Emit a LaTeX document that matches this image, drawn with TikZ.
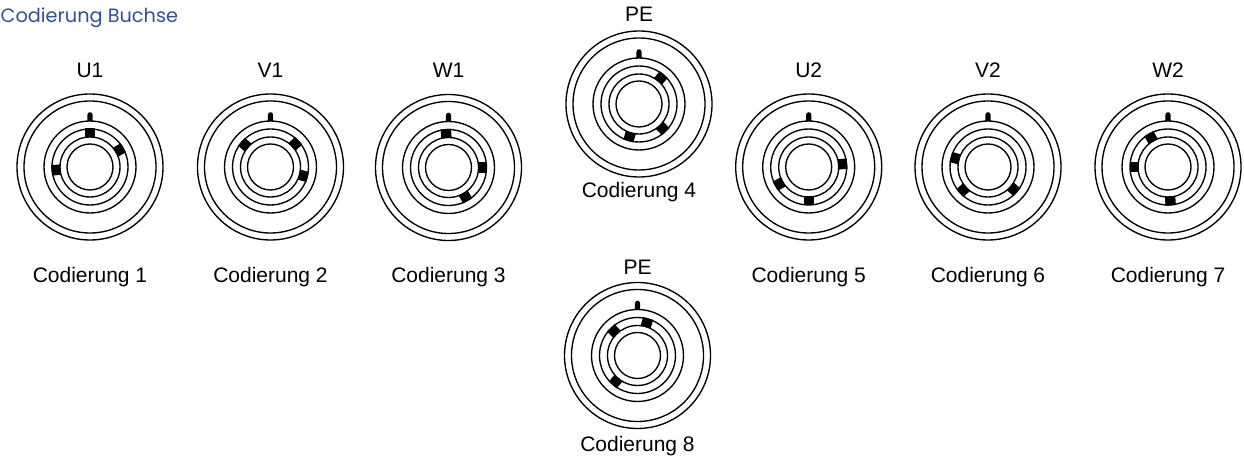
\documentclass[tikz,border=0pt]{standalone}
\usepackage{fontspec}
\setmainfont{Liberation Sans}
\newfontfamily\titlefont{Poppins}
\definecolor{titleblue}{RGB}{48,82,148}
\tikzset{
  ring/.style={draw=black, line width=1.35pt},
  keyblock/.style={fill=black},
  lbl/.style={inner sep=0pt, anchor=base, font=\fontsize{21}{25}\selectfont},
}
\newcommand\buchse[3]{%
  \begin{scope}[shift={(#1,#2)}]
    \draw[ring] (0,0) circle (73pt);
    \draw[ring] (0,0) circle (66pt);
    \draw[ring] (0,0) circle (46pt);
    \draw[ring] (0,0) circle (38pt);
    \draw[ring] (0,0) circle (30pt);
    \draw[ring] (0,0) circle (23pt);
    \foreach \a in {#3} {\fill[keyblock, rotate=\a] (29.5,-5.2) rectangle (38.5,5.2);}
    \fill (-2.6,46) -- (-2.6,52.2) arc (180:0:2.6) -- (2.6,46) -- cycle;
  \end{scope}}
\begin{document}
\begin{tikzpicture}[x=1pt,y=1pt]
\useasboundingbox (0,0) rectangle (1244,460);
\fill[white] (0,0) rectangle (1244,460);
\node[inner sep=0pt, anchor=base west, text=titleblue, font=\titlefont\fontsize{19.3}{22}\selectfont] (title) at (0.5,437.5) {Codierung Buchse};

\buchse{90}{293}{90,30,185}
\buchse{270.5}{293}{139,43,-15}
\buchse{448.5}{292.5}{94,0,-60}
\buchse{639}{356}{50,-46,-106}
\buchse{808.7}{293}{270,210,5}
\buchse{988}{293}{319,223,165}
\buchse{1168}{293}{274,180,120}
\buchse{637.5}{104.5}{230,134,74}

\node[lbl] (tU1) at (90,382) {U1};
\node[lbl] (tV1) at (270.5,382) {V1};
\node[lbl] (tW1) at (448.5,382) {W1};
\node[lbl] (tPE4) at (639,438) {PE};
\node[lbl] (tU2) at (808.7,382) {U2};
\node[lbl] (tV2) at (988,382) {V2};
\node[lbl] (tW2) at (1168,382) {W2};
\node[lbl] (tPE8) at (637.5,185) {PE};

\node[lbl] (c1) at (90,177.5) {Codierung 1};
\node[lbl] (c2) at (270.5,177.5) {Codierung 2};
\node[lbl] (c3) at (448.5,177.5) {Codierung 3};
\node[lbl] (c4) at (639,262.5) {Codierung 4};
\node[lbl] (c5) at (808.7,177.5) {Codierung 5};
\node[lbl] (c6) at (988,177.5) {Codierung 6};
\node[lbl] (c7) at (1168,177.5) {Codierung 7};
\node[lbl] (c8) at (637.5,8) {Codierung 8};
\end{tikzpicture}
\end{document}
